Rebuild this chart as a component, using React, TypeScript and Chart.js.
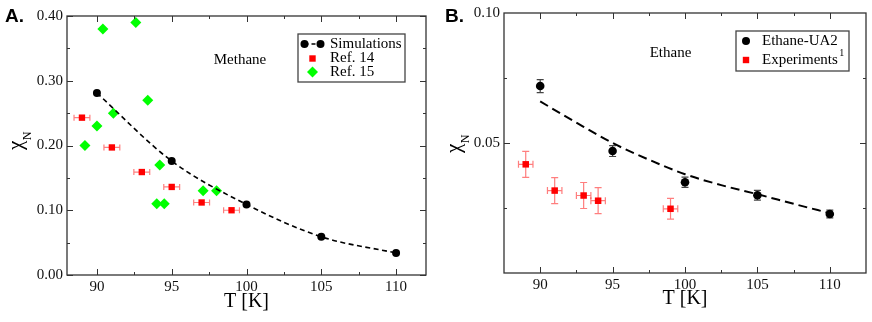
import React, { useEffect, useRef } from "react";
import { Chart, registerables } from "chart.js";
Chart.register(...registerables);

// ---------- Panel A: Methane ----------
const methaneT = [90, 95, 100, 105, 110];
const methaneSim = [0.281, 0.176, 0.109, 0.059, 0.034];
const ref14T = [89, 91, 93, 95, 97, 99];
const ref14Chi = [0.243, 0.197, 0.159, 0.136, 0.112, 0.1];
const ref14TErr = [0.53, 0.53, 0.53, 0.53, 0.53, 0.53];
const ref15T = [89.2, 90, 90.4, 91.1, 92.6, 93.4, 94.0, 94.2, 94.5, 97.1, 98.0];
const ref15Chi = [0.2, 0.23, 0.38, 0.25, 0.39, 0.27, 0.11, 0.17, 0.11, 0.13, 0.13];
const aXTicks = [90, 95, 100, 105, 110];
const aXMinor = [92.5, 97.5, 102.5, 107.5];
const aYTicks = [0, 0.1, 0.2, 0.3, 0.4];
const aYMinor = [0.05, 0.15, 0.25, 0.35];

// ---------- Panel B: Ethane ----------
const ethaneT = [90, 95, 100, 105, 110];
const ethaneSim = [0.0719, 0.0469, 0.0349, 0.0299, 0.0227];
const ethaneSimErr = [0.0025, 0.0021, 0.002, 0.0019, 0.0015];
const ethaneFitT = [90, 92.5, 95, 97.5, 100, 102.5, 105, 107.5, 110];
const ethaneFit = [0.066, 0.0578, 0.05, 0.0436, 0.038, 0.0338, 0.0303, 0.0266, 0.023];
const expT = [89, 91, 93, 94, 99];
const expChi = [0.0418, 0.0317, 0.0298, 0.0278, 0.0247];
const expTErr = [0.5, 0.5, 0.5, 0.5, 0.5];
const expChiErr = [0.005, 0.005, 0.005, 0.005, 0.004];
const bXTicks = [90, 95, 100, 105, 110];
const bXMinor = [92.5, 97.5, 102.5, 107.5];
const bYTicks = [0.05, 0.1];
const bYMajorMarks = [0.05];
const bYMinor = [0.025, 0.075];

const SERIF = '"Liberation Serif", "Times New Roman", serif';
const SANS = '"Liberation Sans", Arial, sans-serif';
const W = 436;
const H = 322;

const pts = (xs: number[], ys: number[]) => xs.map((x, i) => ({ x, y: ys[i] }));

const errorBarPlugin = {
  id: "errorBars",
  beforeDatasetsDraw(chart: any) {
    const ctx = chart.ctx;
    const xs = chart.scales.x;
    const ys = chart.scales.y;
    chart.data.datasets.forEach((ds: any) => {
      if (!ds.errX && !ds.errY) return;
      ctx.save();
      ctx.strokeStyle = ds.errColor;
      ctx.lineWidth = ds.errWidth || 1;
      const cap = ds.capSize || 3;
      ds.data.forEach((pt: any, j: number) => {
        const px = xs.getPixelForValue(pt.x);
        const py = ys.getPixelForValue(pt.y);
        ctx.beginPath();
        if (ds.errX) {
          const x1 = xs.getPixelForValue(pt.x - ds.errX[j]);
          const x2 = xs.getPixelForValue(pt.x + ds.errX[j]);
          ctx.moveTo(x1, py); ctx.lineTo(x2, py);
          ctx.moveTo(x1, py - cap); ctx.lineTo(x1, py + cap);
          ctx.moveTo(x2, py - cap); ctx.lineTo(x2, py + cap);
        }
        if (ds.errY) {
          const y1 = ys.getPixelForValue(pt.y - ds.errY[j]);
          const y2 = ys.getPixelForValue(pt.y + ds.errY[j]);
          ctx.moveTo(px, y1); ctx.lineTo(px, y2);
          ctx.moveTo(px - cap, y1); ctx.lineTo(px + cap, y1);
          ctx.moveTo(px - cap, y2); ctx.lineTo(px + cap, y2);
        }
        ctx.stroke();
      });
      ctx.restore();
    });
  },
};

type LegendItem = {
  kind: "simLine" | "circle" | "square" | "diamond";
  color: string;
  label: string;
  sup?: string;
  y: number;
};

type PanelCfg = {
  area: { left: number; right: number; top: number; bottom: number };
  xMin: number; xMax: number; yMin: number; yMax: number;
  xTicks: number[]; xMinor: number[];
  yTicks: number[]; yMajorMarks: number[]; yMinor: number[];
  datasets: any[];
  panelLabel: string; panelLabelX: number;
  note: string; noteX: number; noteY: number;
  legendBox: { x1: number; y1: number; x2: number; y2: number };
  legendSymX: number; legendTextX: number;
  legendItems: LegendItem[];
  xTitleY: number;
  yTitle: { baseX: number; startY: number; subBaseX: number };
};

function drawSymbol(ctx: CanvasRenderingContext2D, kind: string, x: number, y: number, color: string) {
  ctx.fillStyle = color;
  if (kind === "circle") {
    ctx.beginPath(); ctx.arc(x, y, 4, 0, Math.PI * 2); ctx.fill();
  } else if (kind === "square") {
    ctx.fillRect(x - 3.2, y - 3.2, 6.4, 6.4);
  } else if (kind === "diamond") {
    ctx.beginPath();
    ctx.moveTo(x, y - 5.5); ctx.lineTo(x + 5.5, y); ctx.lineTo(x, y + 5.5); ctx.lineTo(x - 5.5, y);
    ctx.closePath(); ctx.fill();
  }
}

function makeDecoPlugin(cfg: PanelCfg) {
  return {
    id: "deco",
    afterDraw(chart: any) {
      const ctx: CanvasRenderingContext2D = chart.ctx;
      const { left, right, top, bottom } = chart.chartArea;
      const xs = chart.scales.x;
      const ys = chart.scales.y;
      ctx.save();
      // frame
      ctx.strokeStyle = "#333";
      ctx.lineWidth = 1.3;
      ctx.strokeRect(left, top, right - left, bottom - top);
      // ticks (inward, all four sides)
      ctx.lineWidth = 1;
      ctx.beginPath();
      const xT = (v: number, len: number) => {
        const px = Math.round(xs.getPixelForValue(v)) + 0.5;
        ctx.moveTo(px, bottom); ctx.lineTo(px, bottom - len);
        ctx.moveTo(px, top); ctx.lineTo(px, top + len);
      };
      const yT = (v: number, len: number) => {
        const py = Math.round(ys.getPixelForValue(v)) + 0.5;
        ctx.moveTo(left, py); ctx.lineTo(left + len, py);
        ctx.moveTo(right, py); ctx.lineTo(right - len, py);
      };
      cfg.xTicks.forEach((v) => xT(v, 6));
      cfg.xMinor.forEach((v) => xT(v, 3));
      cfg.yMajorMarks.forEach((v) => yT(v, 6));
      cfg.yMinor.forEach((v) => yT(v, 3));
      ctx.stroke();

      // panel label
      ctx.fillStyle = "#000";
      ctx.font = `bold 19px ${SANS}`;
      ctx.textAlign = "left";
      ctx.textBaseline = "alphabetic";
      ctx.fillText(cfg.panelLabel, cfg.panelLabelX, 22);

      // note
      ctx.font = `15px ${SERIF}`;
      ctx.textAlign = "center";
      ctx.textBaseline = "middle";
      ctx.fillText(cfg.note, cfg.noteX, cfg.noteY);

      // x title
      ctx.font = `20px ${SERIF}`;
      ctx.fillText("T [K]", (left + right) / 2, cfg.xTitleY);

      // y title: chi_N rotated
      ctx.save();
      ctx.translate(cfg.yTitle.baseX, cfg.yTitle.startY);
      ctx.rotate(-Math.PI / 2);
      ctx.textAlign = "left";
      ctx.textBaseline = "alphabetic";
      ctx.font = `21px ${SERIF}`;
      ctx.fillText("χ", 0, 0);
      const cw = ctx.measureText("χ").width;
      ctx.font = `12px ${SERIF}`;
      ctx.fillText("N", cw + 0.5, cfg.yTitle.subBaseX - cfg.yTitle.baseX);
      ctx.restore();

      // legend box
      const lb = cfg.legendBox;
      ctx.fillStyle = "#fff";
      ctx.fillRect(lb.x1, lb.y1, lb.x2 - lb.x1, lb.y2 - lb.y1);
      ctx.strokeStyle = "#444";
      ctx.lineWidth = 1.3;
      ctx.strokeRect(lb.x1, lb.y1, lb.x2 - lb.x1, lb.y2 - lb.y1);
      cfg.legendItems.forEach((it) => {
        if (it.kind === "simLine") {
          ctx.strokeStyle = "#000";
          ctx.lineWidth = 1.6;
          ctx.setLineDash([4, 3]);
          ctx.beginPath();
          ctx.moveTo(cfg.legendSymX - 8, it.y); ctx.lineTo(cfg.legendSymX + 8, it.y);
          ctx.stroke();
          ctx.setLineDash([]);
          drawSymbol(ctx, "circle", cfg.legendSymX - 8, it.y, it.color);
          drawSymbol(ctx, "circle", cfg.legendSymX + 8, it.y, it.color);
        } else {
          drawSymbol(ctx, it.kind, cfg.legendSymX, it.y, it.color);
        }
        ctx.fillStyle = "#000";
        ctx.font = `15px ${SERIF}`;
        ctx.textAlign = "left";
        ctx.textBaseline = "middle";
        ctx.fillText(it.label, cfg.legendTextX, it.y);
        if (it.sup) {
          const w = ctx.measureText(it.label).width;
          ctx.font = `10px ${SERIF}`;
          ctx.fillText(it.sup, cfg.legendTextX + w + 1.5, it.y - 7);
        }
      });
      ctx.restore();
    },
  };
}

const panelA: PanelCfg = {
  area: { left: 67, right: 426, top: 16, bottom: 275 },
  xMin: 88, xMax: 112, yMin: 0, yMax: 0.4,
  xTicks: aXTicks, xMinor: aXMinor,
  yTicks: aYTicks, yMajorMarks: aYTicks, yMinor: aYMinor,
  datasets: [
    {
      label: "Simulations",
      data: pts(methaneT, methaneSim),
      showLine: true,
      borderColor: "#000",
      borderWidth: 1.6,
      borderDash: [5, 3.5],
      cubicInterpolationMode: "monotone",
      pointRadius: 4,
      pointBackgroundColor: "#000",
      pointBorderWidth: 0,
      order: 1,
    },
    {
      label: "Ref. 14",
      data: pts(ref14T, ref14Chi),
      pointStyle: "rect",
      pointRadius: 4.5,
      pointBackgroundColor: "#ff0000",
      pointBorderWidth: 0,
      errX: ref14TErr,
      errColor: "rgba(255,40,40,0.6)",
      errWidth: 1.2,
      capSize: 3,
      order: 2,
    },
    {
      label: "Ref. 15",
      data: pts(ref15T, ref15Chi),
      pointStyle: "rectRot",
      pointRadius: 5.5,
      pointBackgroundColor: "#00ff00",
      pointBorderWidth: 0,
      order: 3,
    },
  ],
  panelLabel: "A.",
  panelLabelX: 5,
  note: "Methane",
  noteX: 240,
  noteY: 60,
  legendBox: { x1: 298, y1: 34, x2: 405, y2: 82 },
  legendSymX: 312.5,
  legendTextX: 330,
  legendItems: [
    { kind: "simLine", color: "#000", label: "Simulations", y: 44 },
    { kind: "square", color: "#ff0000", label: "Ref. 14", y: 58.5 },
    { kind: "diamond", color: "#00ff00", label: "Ref. 15", y: 72 },
  ],
  xTitleY: 302,
  yTitle: { baseX: 22, startY: 150, subBaseX: 31 },
};

const panelB: PanelCfg = {
  area: { left: 68, right: 430, top: 13, bottom: 273 },
  xMin: 87.5, xMax: 112.5, yMin: 0, yMax: 0.1,
  xTicks: bXTicks, xMinor: bXMinor,
  yTicks: bYTicks, yMajorMarks: bYMajorMarks, yMinor: bYMinor,
  datasets: [
    {
      label: "Ethane-UA2",
      data: pts(ethaneT, ethaneSim),
      pointRadius: 4.3,
      pointBackgroundColor: "#000",
      pointBorderWidth: 0,
      errY: ethaneSimErr,
      errColor: "#444",
      errWidth: 1.2,
      capSize: 3.5,
      order: 1,
    },
    {
      label: "fit",
      data: pts(ethaneFitT, ethaneFit),
      showLine: true,
      borderColor: "#000",
      borderWidth: 2,
      borderDash: [9, 5],
      cubicInterpolationMode: "monotone",
      pointRadius: 0,
      order: 2,
    },
    {
      label: "Experiments",
      data: pts(expT, expChi),
      pointStyle: "rect",
      pointRadius: 4.6,
      pointBackgroundColor: "#ff0000",
      pointBorderWidth: 0,
      errX: expTErr,
      errY: expChiErr,
      errColor: "rgba(255,40,40,0.6)",
      errWidth: 1.2,
      capSize: 3.5,
      order: 3,
    },
  ],
  panelLabel: "B.",
  panelLabelX: 9,
  note: "Ethane",
  noteX: 234.5,
  noteY: 53.5,
  legendBox: { x1: 300, y1: 31, x2: 413, y2: 71 },
  legendSymX: 310,
  legendTextX: 326,
  legendItems: [
    { kind: "circle", color: "#000", label: "Ethane-UA2", y: 41 },
    { kind: "square", color: "#ff0000", label: "Experiments", sup: "1", y: 60 },
  ],
  xTitleY: 299,
  yTitle: { baseX: 23.5, startY: 153, subBaseX: 33 },
};

function buildConfig(cfg: PanelCfg): any {
  const tickFont = { family: SERIF, size: 15 };
  return {
    type: "scatter",
    data: { datasets: cfg.datasets },
    plugins: [errorBarPlugin, makeDecoPlugin(cfg)],
    options: {
      responsive: false,
      maintainAspectRatio: false,
      animation: false,
      devicePixelRatio: 1,
      layout: { padding: { left: 0, top: cfg.area.top, right: W - cfg.area.right, bottom: 0 } },
      plugins: { legend: { display: false }, tooltip: { enabled: false }, title: { display: false } },
      scales: {
        x: {
          type: "linear",
          min: cfg.xMin,
          max: cfg.xMax,
          grid: { display: false, drawTicks: false },
          border: { display: false },
          afterBuildTicks: (s: any) => { s.ticks = cfg.xTicks.map((v) => ({ value: v })); },
          afterFit: (s: any) => { s.height = H - cfg.area.bottom; },
          ticks: {
            font: tickFont, color: "#111", padding: 3, maxRotation: 0, autoSkip: false,
            callback: (v: any) => String(v),
          },
        },
        y: {
          type: "linear",
          min: cfg.yMin,
          max: cfg.yMax,
          grid: { display: false, drawTicks: false },
          border: { display: false },
          afterBuildTicks: (s: any) => { s.ticks = cfg.yTicks.map((v) => ({ value: v })); },
          afterFit: (s: any) => { s.width = cfg.area.left; },
          ticks: {
            font: tickFont, color: "#111", padding: 4, autoSkip: false,
            callback: (v: any) => Number(v).toFixed(2),
          },
        },
      },
    },
  };
}

function Panel({ cfg, left }: { cfg: PanelCfg; left: number }) {
  const ref = useRef<HTMLCanvasElement>(null);
  useEffect(() => {
    const chart = new Chart(ref.current as HTMLCanvasElement, buildConfig(cfg));
    return () => chart.destroy();
  }, [cfg]);
  return (
    <canvas
      ref={ref}
      width={W}
      height={H}
      style={{ position: "absolute", left, top: 0, width: W, height: H }}
    />
  );
}

export default function App() {
  return (
    <div style={{ position: "fixed", left: 0, top: 0, width: 872, height: 322, background: "#fff" }}>
      <Panel cfg={panelA} left={0} />
      <Panel cfg={panelB} left={436} />
    </div>
  );
}
